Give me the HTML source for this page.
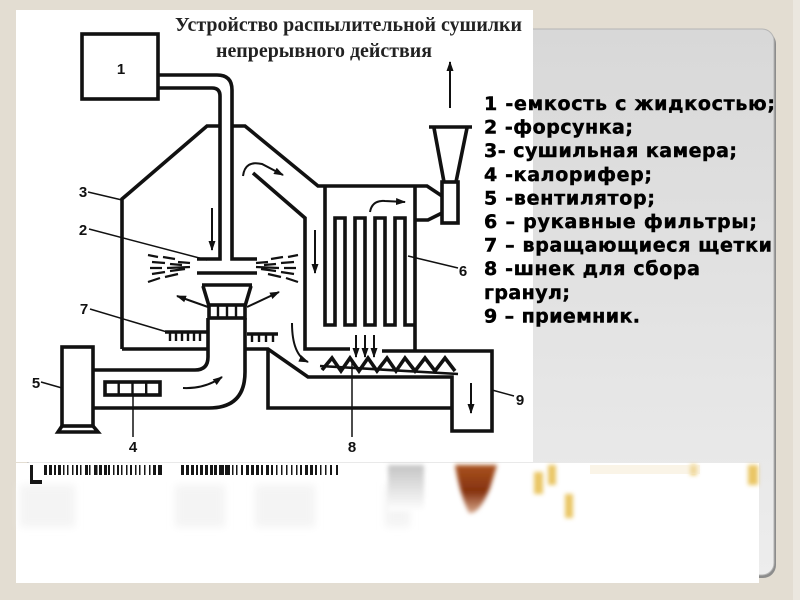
<!DOCTYPE html>
<html><head><meta charset="utf-8">
<style>
html,body{margin:0;padding:0;}
body{width:800px;height:600px;overflow:hidden;background:#e3ddd2;}
svg{display:block}
</style></head><body>
<svg width="800" height="600" viewBox="0 0 800 600" xmlns="http://www.w3.org/2000/svg">
<defs>
<linearGradient id="pg" x1="0" y1="0" x2="0" y2="1">
<stop offset="0" stop-color="#d8d8d8"/>
<stop offset="1" stop-color="#ededed"/>
</linearGradient>
<linearGradient id="gb" x1="0" y1="0" x2="0" y2="1">
<stop offset="0" stop-color="#c4c4c4"/>
<stop offset="1" stop-color="#ffffff"/>
</linearGradient>
<linearGradient id="br" x1="0" y1="0" x2="0" y2="1">
<stop offset="0" stop-color="#a9521f"/>
<stop offset="0.55" stop-color="#85320f"/>
<stop offset="1" stop-color="#d7a88c"/>
</linearGradient>
<filter id="bl" x="-50%" y="-50%" width="200%" height="200%"><feGaussianBlur stdDeviation="2"/></filter>
<filter id="bl4" x="-50%" y="-50%" width="200%" height="200%"><feGaussianBlur stdDeviation="4"/></filter>
<marker id="ah" viewBox="0 0 10 7" refX="9" refY="3.5" markerWidth="10" markerHeight="7" markerUnits="userSpaceOnUse" orient="auto">
<path d="M0,0 L10,3.5 L0,7 z" fill="#111"/>
</marker>
</defs>

<!-- background -->
<rect width="800" height="600" fill="#e3ddd2"/>
<rect x="793" y="0" width="7" height="600" fill="#ebe7df"/>

<!-- gray panel -->
<rect x="30" y="31" width="746" height="547" rx="13" fill="#8c8c8c"/>
<rect x="28" y="29" width="746" height="546" rx="12" fill="url(#pg)" stroke="#b5b5b5" stroke-width="1"/>

<!-- white image area -->
<rect x="16" y="10" width="517" height="452" fill="#ffffff"/>

<!-- bottom strip -->
<rect x="16" y="463" width="743" height="120" fill="#ffffff"/>
<g fill="#f4f4f4" filter="url(#bl4)">
<rect x="20" y="485" width="55" height="42"/>
<rect x="175" y="485" width="50" height="42"/>
<rect x="255" y="485" width="60" height="42"/>
<rect x="385" y="485" width="25" height="42"/>
</g>
<rect x="388" y="465" width="36" height="46" fill="url(#gb)" filter="url(#bl)"/>
<path d="M455,465 H497 L490,488 Q479,515 469,513 Q460,495 455,465 Z" fill="url(#br)" filter="url(#bl)"/>
<g fill="#e6bc48" filter="url(#bl)" opacity="0.85">
<rect x="548" y="465" width="8" height="20"/>
<rect x="534" y="472" width="9" height="22"/>
<rect x="565" y="494" width="8" height="24"/>
<rect x="690" y="465" width="7" height="10"/>
<rect x="748" y="465" width="10" height="20"/>
</g>
<rect x="590" y="465" width="110" height="9" fill="#f6ead0" opacity="0.5"/>
<!-- barcode-like bars -->
<g fill="#161616">
<rect x="30" y="465" width="3" height="19"/>
<rect x="30" y="480" width="12" height="4"/>
<rect x="44" y="465" width="3" height="10"/><rect x="49" y="465" width="3" height="10"/><rect x="54" y="465" width="2" height="10"/>
<rect x="58" y="465" width="3" height="10"/><rect x="63" y="465" width="1.5" height="10"/><rect x="67" y="465" width="1.5" height="10"/>
<rect x="72" y="465" width="1.5" height="10"/><rect x="76" y="465" width="2" height="10"/><rect x="80" y="465" width="1.5" height="10"/>
<rect x="85" y="465" width="3" height="10"/><rect x="89" y="465" width="1.5" height="10"/><rect x="94" y="465" width="3.5" height="10"/>
<rect x="99" y="465" width="3" height="10"/><rect x="104" y="465" width="3" height="10"/><rect x="108" y="465" width="2" height="10"/>
<rect x="113" y="465" width="1.5" height="10"/><rect x="117" y="465" width="2" height="10"/><rect x="121" y="465" width="1.5" height="10"/>
<rect x="126" y="465" width="1.5" height="10"/><rect x="130" y="465" width="2" height="10"/><rect x="135" y="465" width="1.5" height="10"/>
<rect x="139" y="465" width="1.5" height="10"/><rect x="144" y="465" width="1.5" height="10"/><rect x="149" y="465" width="1.5" height="10"/>
<rect x="153" y="465" width="3" height="10"/><rect x="158" y="465" width="4" height="10"/>
<rect x="181" y="465" width="3" height="10"/><rect x="186" y="465" width="3" height="10"/><rect x="191" y="465" width="3" height="10"/>
<rect x="196" y="465" width="2" height="10"/><rect x="200" y="465" width="3" height="10"/><rect x="205" y="465" width="3" height="10"/>
<rect x="210" y="465" width="3" height="10"/><rect x="214" y="465" width="3" height="10"/><rect x="219" y="465" width="5" height="10"/>
<rect x="225" y="465" width="5" height="10"/><rect x="232" y="465" width="1.5" height="10"/><rect x="236" y="465" width="1.5" height="10"/>
<rect x="241" y="465" width="2" height="10"/><rect x="246" y="465" width="3" height="10"/><rect x="251" y="465" width="3" height="10"/>
<rect x="256" y="465" width="3" height="10"/><rect x="261" y="465" width="2" height="10"/><rect x="266" y="465" width="3" height="10"/>
<rect x="271" y="465" width="2" height="10"/><rect x="276" y="465" width="1.5" height="10"/><rect x="281" y="465" width="1.5" height="10"/>
<rect x="286" y="465" width="1.5" height="10"/><rect x="291" y="465" width="1.5" height="10"/><rect x="296" y="465" width="1.5" height="10"/>
<rect x="300" y="465" width="2" height="10"/><rect x="305" y="465" width="3" height="10"/><rect x="310" y="465" width="3" height="10"/>
<rect x="315" y="465" width="2" height="10"/><rect x="320" y="465" width="1.5" height="10"/><rect x="325" y="465" width="1.5" height="10"/>
<rect x="330" y="465" width="2" height="10"/><rect x="336" y="465" width="2" height="10"/>
</g>

<!-- title -->
<g font-family="'Liberation Serif', 'Noto Serif CJK SC', serif" font-weight="bold" fill="#222">
<text x="175" y="31" font-size="20" textLength="347" lengthAdjust="spacingAndGlyphs">Устройство распылительной сушилки</text>
<text x="216" y="57" font-size="20" textLength="216" lengthAdjust="spacingAndGlyphs">непрерывного действия</text>
</g>

<!-- diagram -->
<g fill="none" stroke="#111" stroke-width="3.6" stroke-linejoin="miter">
<rect x="82" y="34" width="76" height="65"/>
<path d="M158,75 H217 Q232,75 232,90 V259 H257"/>
<path d="M158,88 H212 Q220,88 220,96 V259 H197"/>
<path d="M197,273 H257"/>
<path d="M122,349 V199 L207,126 H220"/>
<path d="M232,126 H245 L318,186 H427 L442,196"/>
<path d="M122,349 H208"/>
<path d="M208,318 V357 Q208,370 195,370 H93"/>
<path d="M245,318 V372 Q245,408 209,408 H93"/>
<path d="M202,285 H252"/>
<path d="M203,286 L209,306"/>
<path d="M251,286 L245,306"/>
<rect x="209" y="305" width="36" height="13"/>
<path d="M245,349 H268 L308,377 H452 V431 H492 V351 H382"/>
<path d="M350,349 H305 V218 L253,173"/>
<path d="M268,349 V408 H452"/>
<path d="M415,186 V351"/>
<path d="M325,186 V325 H335 V218 H345 V325 H355 V218 H365 V325 H375 V218 H385 V325 H395 V218 H405 V325 H415"/>
<path d="M415,220 H428 L442,213"/>
<rect x="442" y="182" width="16" height="41"/>
<path d="M429,127 H472"/>
<path d="M434,128 L444,182"/>
<path d="M467,128 L456,182"/>
<path d="M165,332 H207"/>
<path d="M247,334 H278"/>
<rect x="105" y="382" width="55" height="13"/>
<rect x="62" y="347" width="31" height="79"/>
<path d="M62,426 L58,432 H98 L93,426"/>
<polyline points="322,370 332,358 341,371 350,358 359,371 368,358 377,371 387,358 396,371 405,358 415,371 425,358 435,371 445,358 455,371"/>
</g>
<g fill="none" stroke="#111" stroke-width="2.6">
<path d="M320,366 L458,374"/>
</g>
<g stroke="#111" stroke-width="2.4">
<path d="M218,305 V318 M227,305 V318 M236,305 V318"/>
<path d="M118.7,382 V395 M132.5,382 V395 M146.2,382 V395"/>
<path d="M170,332 V341 M176,332 V341 M182,332 V341 M188,332 V341 M194,332 V341 M200,332 V341"/>
<path d="M252,334 V342 M259,334 V342 M266,334 V342 M273,334 V342"/>
</g>
<g stroke="#111" stroke-width="2.2">
<path d="M148,255 L158,257 M163,257 L175,259 M178,262 L190,263 M152,262 L165,263 M170,264 L182,265 M150,268 L162,268 M167,268 L190,267 M152,274 L165,272 M170,271 L185,269 M148,282 L160,278 M165,277 L178,274"/>
<path d="M298,255 L288,257 M283,257 L271,259 M268,262 L256,263 M294,262 L281,263 M276,264 L264,265 M296,268 L284,268 M279,268 L256,267 M294,274 L281,272 M276,271 L261,269 M298,282 L286,278 M281,277 L268,274"/>
</g>
<g fill="none" stroke="#111" stroke-width="2" marker-end="url(#ah)">
<path d="M212,208 V250"/>
<path d="M243,176 Q245,160 262,164 L283,175"/>
<path d="M315,230 V273"/>
<path d="M370,212 Q372,200 385,201 L405,202"/>
<path d="M208,307 L177,296"/>
<path d="M247,307 L279,292"/>
<path d="M183,388 Q205,389 222,377"/>
<path d="M292,323 Q292,355 308,362"/>
<path d="M356,335 V357"/>
<path d="M365,335 V357"/>
<path d="M374,335 V357"/>
<path d="M471,383 V413"/>
<path d="M450,108 V62"/>
</g>
<g fill="none" stroke="#111" stroke-width="1.5">
<path d="M88,192 L122,200"/>
<path d="M89,229 L207,260"/>
<path d="M90,309 L167,332"/>
<path d="M41,382 L62,388"/>
<path d="M133,395 V437"/>
<path d="M352,360 V437"/>
<path d="M492,390 L514,396"/>
<path d="M408,256 L458,268"/>
</g>
<g font-family="'Liberation Sans', sans-serif" font-weight="bold" font-size="15" fill="#111" text-anchor="middle">
<text x="121" y="74">1</text>
<text x="83" y="197">3</text>
<text x="83" y="235">2</text>
<text x="84" y="314">7</text>
<text x="36" y="388">5</text>
<text x="133" y="452">4</text>
<text x="352" y="452">8</text>
<text x="520" y="405">9</text>
<text x="463" y="276">6</text>
</g>

<!-- legend -->
<g font-family="'DejaVu Sans', 'Liberation Sans', sans-serif" font-weight="bold" font-size="19" fill="#000" stroke="#000" stroke-width="0.45">
<text x="484" y="110" textLength="291" lengthAdjust="spacing">1 -емкость с жидкостью;</text>
<text x="484" y="133.6" textLength="149" lengthAdjust="spacing">2 -форсунка;</text>
<text x="484" y="157.2" textLength="253" lengthAdjust="spacing">3- сушильная камера;</text>
<text x="484" y="180.8" textLength="168" lengthAdjust="spacing">4 -калорифер;</text>
<text x="484" y="204.4" textLength="171" lengthAdjust="spacing">5 -вентилятор;</text>
<text x="484" y="228" textLength="273" lengthAdjust="spacing">6 – рукавные фильтры;</text>
<text x="484" y="251.6" textLength="288" lengthAdjust="spacing">7 – вращающиеся щетки</text>
<text x="484" y="275.2" textLength="216" lengthAdjust="spacing">8 -шнек для сбора</text>
<text x="484" y="298.8" textLength="86" lengthAdjust="spacing">гранул;</text>
<text x="484" y="322.4" textLength="156" lengthAdjust="spacing">9 – приемник.</text>
</g>
</svg>
</body></html>
